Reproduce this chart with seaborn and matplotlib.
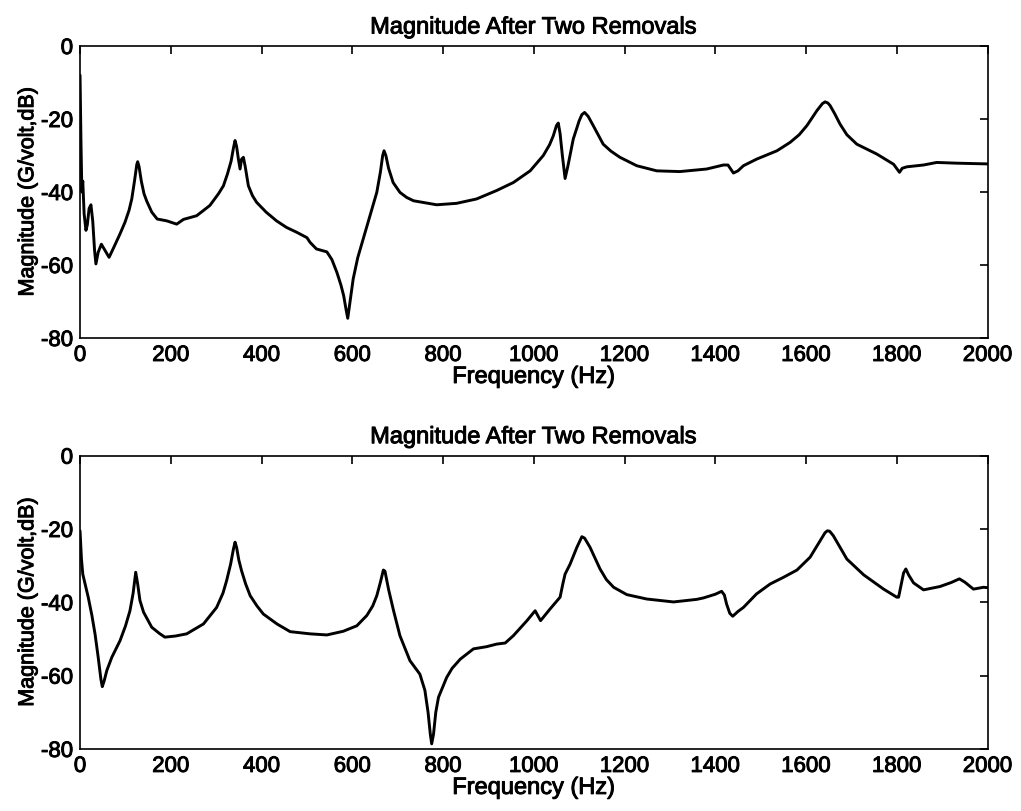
import numpy as np
import pandas as pd
import matplotlib
matplotlib.use("Agg")
import matplotlib.pyplot as plt
import matplotlib.patheffects as pe
import seaborn as sns

# ---- data ----
freq_top = [0, 2, 4, 6, 9, 13, 16, 20, 24, 28, 32, 35, 40, 47, 55, 64, 75, 88, 99, 108,
            114, 120, 125, 127, 130, 135, 141, 147, 158, 170, 191, 213, 228, 257, 286, 305,
            316, 325, 333, 338, 341.6, 345, 349, 352.7, 356, 360, 364, 371, 380, 389, 410,
            433, 455, 477, 500, 507, 521, 544, 555, 566, 575, 581, 586, 590, 594, 602, 612,
            624, 640, 654, 662, 667, 670, 674, 680, 690, 705, 720, 735, 786, 830, 874, 918,
            955, 992, 1021, 1035, 1043, 1050, 1054, 1058, 1063, 1069, 1075, 1087, 1100, 1106,
            1112, 1120, 1131, 1153, 1170, 1190, 1227, 1271, 1322, 1363, 1381, 1418, 1428,
            1440, 1450, 1462, 1491, 1536, 1565, 1585, 1602, 1624, 1636, 1642, 1648, 1653,
            1663, 1675, 1690, 1712, 1756, 1793, 1806, 1812, 1822, 1859, 1888, 1932, 2000]
mag_top = [-8, -26, -40, -37, -46, -50.5, -49, -44.5, -43.5, -48, -56, -59.7, -56.5, -54.3,
           -56, -57.9, -55, -51.5, -48.3, -45, -41.9, -37, -32.5, -31.7, -33, -37, -40.5,
           -42.5, -45.5, -47.4, -47.9, -48.8, -47.5, -46.5, -43.7, -40.5, -38.3, -35, -31.5,
           -28, -25.9, -27.5, -31, -33.7, -31, -30.5, -33, -38.3, -41, -42.8, -45.5, -47.9,
           -49.7, -51, -52.5, -53.8, -55.6, -56.4, -58.5, -62, -65.5, -68.4, -72, -74.6, -71,
           -63.8, -58, -52.9, -46, -40.1, -34.5, -30, -28.7, -30, -33.5, -37.4, -40.1, -41.5,
           -42.4, -43.5, -43.1, -41.9, -39.6, -37.4, -34.2, -30, -27, -24.6, -21.8, -21.1,
           -24, -30, -36.3, -33, -25.5, -20.5, -18.8, -18.2, -19.3, -21.8, -26.9, -28.8,
           -30.5, -32.8, -34.2, -34.4, -33.9, -33.7, -32.6, -32.6, -34.8, -34.2, -32.8, -31,
           -28.7, -26.4, -24.3, -21.8, -17.7, -15.8, -15.3, -15.6, -16.3, -18.5, -21.4,
           -24.3, -26.9, -29.6, -32.4, -34.6, -33.5, -33.1, -32.6, -31.9, -32.1, -32.3]

freq_bot = [0, 3, 6, 12, 18, 26, 33, 40, 46, 49, 53, 59, 70, 88, 100, 110, 117, 122.7, 127,
            132, 140, 158, 175, 187, 210, 235, 272, 301, 315, 323, 332, 338, 341.6, 345, 350,
            356, 365, 375, 390, 404, 434, 463, 507, 544, 580, 610, 632, 645, 654, 662, 668.5,
            672, 680, 691, 705, 727, 749, 760, 767, 772, 775, 779, 784, 790, 808, 820, 838,
            867, 896, 918, 937, 955, 985, 1003, 1015, 1036, 1058, 1064, 1069, 1080, 1095,
            1106, 1112, 1124, 1146, 1160, 1176, 1205, 1249, 1308, 1359, 1374, 1400, 1414,
            1420, 1425, 1432, 1438.5, 1450, 1462, 1491, 1521, 1550, 1580, 1609, 1631, 1642,
            1647, 1652, 1660, 1675, 1690, 1727, 1771, 1800, 1804, 1810, 1815, 1820, 1826,
            1837, 1859, 1895, 1920, 1938, 1950, 1969, 1991, 2000]
mag_bot = [-20.5, -28, -32.3, -35.5, -38.6, -43.5, -48.6, -55, -61, -63, -61.5, -58.6, -55,
           -50.5, -46.5, -42.3, -37.5, -31.8, -35, -39.5, -42.7, -46.8, -48.5, -49.5, -49.2,
           -48.6, -45.9, -41.4, -37.5, -34.1, -29.5, -25.5, -23.6, -25, -28.5, -31.4, -35,
           -38.2, -41, -43.2, -45.9, -48, -48.6, -48.9, -47.9, -46.4, -43.6, -41, -38.2,
           -34.5, -31.2, -31.5, -36.5, -42.3, -49.1, -55.9, -59.6, -64, -70, -76, -78.6, -76,
           -70, -65.9, -60.5, -58, -55.5, -52.7, -52.1, -51.4, -51.1, -49.1, -45, -42.3, -45,
           -41.8, -38.6, -35, -32.3, -29.6, -25, -22.1, -22.5, -25, -30.9, -33.8, -35.9,
           -37.9, -39.1, -39.9, -39.2, -38.8, -37.8, -37, -38, -40.5, -43, -43.8, -42.5,
           -41.4, -37.7, -35, -33.2, -31.2, -27.7, -23.2, -21, -20.5, -20.6, -21.8, -25,
           -28.2, -32.5, -36.4, -38.6, -38.6, -35, -32, -30.9, -32.5, -34.7, -36.6, -35.7,
           -34.6, -33.6, -34.5, -36.4, -35.9, -36]

x_ticks = [0, 200, 400, 600, 800, 1000, 1200, 1400, 1600, 1800, 2000]
y_ticks = [-80, -60, -40, -20, 0]
titles = ["Magnitude After Two Removals", "Magnitude After Two Removals"]
x_label = "Frequency (Hz)"
y_label = "Magnitude (G/volt,dB)"

# ---- plotting ----
sns.set_theme(style="white")
plt.rcParams['font.family'] = ['Liberation Sans', 'DejaVu Sans']
plt.rcParams['axes.unicode_minus'] = False
plt.rcParams['axes.linewidth'] = 1.2

heavy = [pe.withStroke(linewidth=0.7, foreground="black")]

fig = plt.figure(figsize=(10.21, 8.12), dpi=100)
ax1 = fig.add_axes([0.0784, 0.5825, 0.8888, 0.3596])
ax2 = fig.add_axes([0.0784, 0.0764, 0.8888, 0.3612])

series = [(ax1, freq_top, mag_top), (ax2, freq_bot, mag_bot)]
for (ax, f, m), t in zip(series, titles):
    df = pd.DataFrame({"f": f, "m": m})
    sns.lineplot(data=df, x="f", y="m", ax=ax, color="black", linewidth=2.1,
                 sort=False, estimator=None)
    ax.set_xlim(0, 2000)
    ax.set_ylim(-80, 0)
    ax.set_xticks(x_ticks)
    ax.set_yticks(y_ticks)
    ax.tick_params(direction="in", length=6, width=1.2, top=True, right=True,
                   labelsize=16, colors="black", pad=5)
    for s in ax.spines.values():
        s.set_color("black")
        s.set_linewidth(1.2)
    ttl = ax.set_title(t, fontsize=17, pad=9, color="black")
    xl = ax.set_xlabel(x_label, fontsize=17, labelpad=0, color="black")
    yl = ax.set_ylabel(y_label, fontsize=15.5, labelpad=2, color="black")
    for txt in [ttl, xl, yl] + ax.get_xticklabels() + ax.get_yticklabels():
        txt.set_path_effects(heavy)
    ax.set_facecolor("white")

fig.savefig("out.png", dpi=100, facecolor="white")
